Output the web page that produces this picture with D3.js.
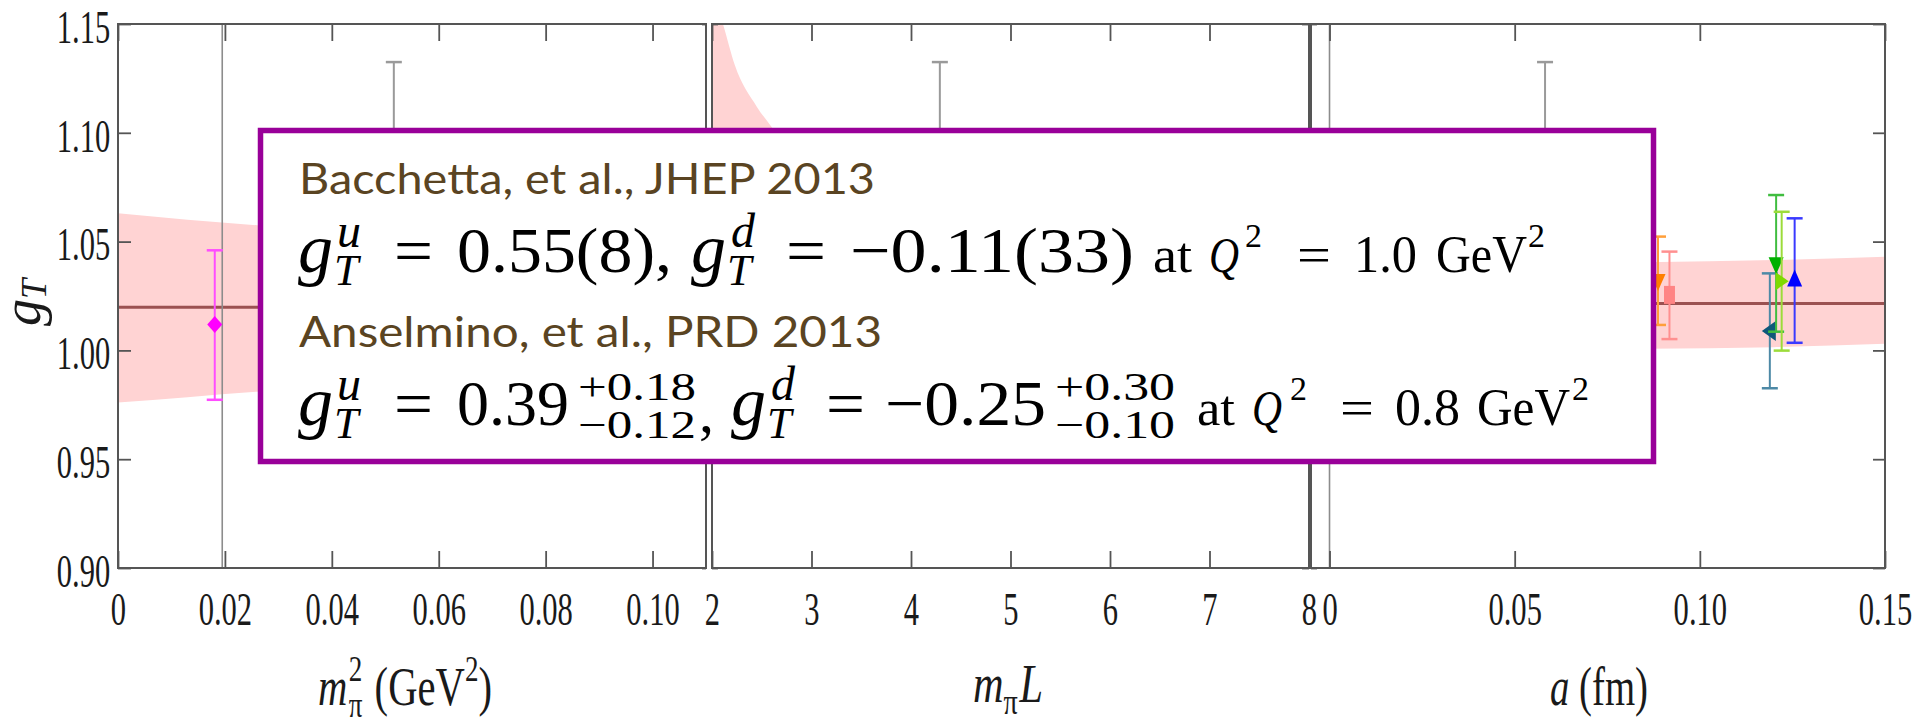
<!DOCTYPE html>
<html>
<head>
<meta charset="utf-8">
<script src="https://cdn.jsdelivr.net/npm/d3@7"></script>
<style>
  body { margin: 0; background: #fff; }
  svg { display: block; }
</style>
</head>
<body>
<svg id="chart" width="1917" height="719"></svg>
<script>
// ---- data ----
const yTicks = [0.90, 0.95, 1.00, 1.05, 1.10, 1.15]
const yTickLabels = ["0.90", "0.95", "1.00", "1.05", "1.10", "1.15"]

const m2Ticks = [0, 0.02, 0.04, 0.06, 0.08, 0.10]
const m2TickLabels = ["0", "0.02", "0.04", "0.06", "0.08", "0.10"]
const mLTicks = [2, 3, 4, 5, 6, 7, 8]
const mLTickLabels = ["2", "3", "4", "5", "6", "7", "8"]
const aTicks = [0, 0.05, 0.10, 0.15]
const aTickLabels = ["0", "0.05", "0.10", "0.15"]

// fit bands (g_T vs m_pi^2, m_pi L, a)
const m2Band = [0, 0.013, 0.026, 0.06, 0.11]
const m2BandLo = [0.976, 0.9785, 0.981, 0.984, 0.986]
const m2BandHi = [1.063, 1.060, 1.0575, 1.054, 1.052]
const m2BandMid = [1.0198, 1.0198, 1.0198, 1.0198, 1.0198]

const mLBand = [2.0, 2.11, 2.23, 2.45, 2.61, 3.0, 4.0, 5.0, 6.0, 8.0]
const mLBandLo = [0.99, 0.993, 0.995, 0.997, 0.998, 1.0, 1.0, 1.0, 1.0, 1.0]
const mLBandHi = [1.165, 1.150, 1.131, 1.112, 1.102, 1.079, 1.052, 1.044, 1.042, 1.041]
const mLBandMid = [1.08, 1.07, 1.063, 1.054, 1.05, 1.04, 1.026, 1.022, 1.021, 1.02]

const aBand = [-0.005, 0.05, 0.085, 0.12, 0.15]
const aBandLo = [1.000, 1.0005, 1.0008, 1.0015, 1.003]
const aBandHi = [1.040, 1.040, 1.0405, 1.0415, 1.043]
const aBandMid = [1.0216, 1.0216, 1.0216, 1.0216, 1.0216]

const m2Phys = 0.0195

// lattice points per panel
const m2Pts = [0.0181, 0.0516]
const m2GT = [1.0119, 1.04]
const m2Lo = [0.9773, 0.955]
const m2Hi = [1.046, 1.1325]
const m2Kind = ["magenta", "gray"]

const mLPts = [4.29]
const mLGT = [1.04]
const mLLo = [0.955]
const mLHi = [1.1325]
const mLKind = ["gray"]

const aPts = [0.0582, 0.0887, 0.0918, 0.1189, 0.1206, 0.1221, 0.1256]
const aGT = [1.04, 1.0324, 1.0255, 1.0089, 1.04, 1.0318, 1.0321]
const aLo = [0.955, 1.0117, 1.0052, 0.9826, 1.0086, 0.9999, 1.0035]
const aHi = [1.1325, 1.0523, 1.0454, 1.0354, 1.0714, 1.0637, 1.0607]
const aKind = ["gray", "orange", "salmon", "teal", "green", "lime", "blue"]

// ---- styles ----
const styles = {
  gray:    { shape: "square",  fill: "#999999", bar: "#9a9a9a" },
  magenta: { shape: "diamond", fill: "#ff00ff", bar: "#ff4dff" },
  orange:  { shape: "down",    fill: "#ff7f00", bar: "#ff9f3a" },
  salmon:  { shape: "square",  fill: "#ff8484", bar: "#ff9090" },
  teal:    { shape: "left",    fill: "#0f587a", bar: "#4d89a6" },
  green:   { shape: "down",    fill: "#00b000", bar: "#40bd40" },
  lime:    { shape: "right",   fill: "#7fd900", bar: "#9cdc3a" },
  blue:    { shape: "up",      fill: "#0000ff", bar: "#3a3aff" }
}
const shapes = {
  diamond: "M0,-8.5L7.5,0L0,8.5L-7.5,0Z",
  down: "M-7.5,-6L7.5,-6L0,11Z",
  up: "M-7.5,6L7.5,6L0,-11Z",
  left: "M6,-10L6,10L-8,0Z",
  right: "M-6,-9L-6,9L7,0Z",
  square: "M-5.5,-9L5.5,-9L5.5,9L-5.5,9Z"
}

const W = 1917, H = 719
const plotTop = 24, plotBottom = 568
const y = d3.scaleLinear().domain([0.90, 1.15]).range([plotBottom, plotTop])

const panels = [
  { x: d3.scaleLinear().domain([0, 0.11]).range([118, 706]),
    ticks: m2Ticks, labels: m2TickLabels, minor: 22, lTick: [13, 7], rTick: [4, 4],
    band: [m2Band, m2BandLo, m2BandHi, m2BandMid], vline: m2Phys,
    pts: [m2Pts, m2GT, m2Lo, m2Hi, m2Kind] },
  { x: d3.scaleLinear().domain([2, 8]).range([712, 1309]),
    ticks: mLTicks, labels: mLTickLabels, minor: 30, lTick: [6, 6], rTick: [7, 7],
    band: [mLBand, mLBandLo, mLBandHi, mLBandMid], vline: null,
    pts: [mLPts, mLGT, mLLo, mLHi, mLKind] },
  { x: d3.scaleLinear().domain([-0.005, 0.15]).range([1311, 1885]),
    ticks: aTicks, labels: aTickLabels, minor: 15, lTick: [6, 6], rTick: [12, 6],
    band: [aBand, aBandLo, aBandHi, aBandMid], vline: 0,
    pts: [aPts, aGT, aLo, aHi, aKind] }
]

const svg = d3.select("#chart")
svg.append("rect").attr("width", W).attr("height", H).attr("fill", "#fff")
const defs = svg.append("defs")

const tickFont = "Liberation Serif"
const squeeze = 0.65

panels.forEach((p, i) => {
  const [x0, x1] = p.x.range()
  defs.append("clipPath").attr("id", "clip" + i)
    .append("rect").attr("x", x0).attr("y", plotTop).attr("width", x1 - x0).attr("height", plotBottom - plotTop)

  const g = svg.append("g").attr("clip-path", `url(#clip${i})`)
  const [bx, blo, bhi, bmid] = p.band
  const area = d3.area()
    .x(d => p.x(d[0])).y0(d => y(d[1])).y1(d => y(d[2]))
    .curve(d3.curveMonotoneX)
  g.append("path").datum(d3.zip(bx, blo, bhi))
    .attr("d", area).attr("fill", "#ffd3d3")
  const line = d3.line().x(d => p.x(d[0])).y(d => y(d[1])).curve(d3.curveMonotoneX)
  g.append("path").datum(d3.zip(bx, bmid))
    .attr("d", line).attr("fill", "none")
    .attr("stroke", "#8a3a3a").attr("stroke-opacity", 0.85).attr("stroke-width", 3)

  if (p.vline !== null) {
    g.append("line")
      .attr("x1", p.x(p.vline)).attr("x2", p.x(p.vline))
      .attr("y1", plotTop).attr("y2", plotBottom)
      .attr("stroke", "#8c8c8c").attr("stroke-width", 1.6)
  }

  // error bars + markers
  const [px, pv, plo, phi, pk] = p.pts
  const rows = d3.zip(px, pv, plo, phi, pk)
  const pg = g.selectAll("g.pt").data(rows).enter().append("g").attr("class", "pt")
  pg.append("line")
    .attr("x1", d => p.x(d[0])).attr("x2", d => p.x(d[0]))
    .attr("y1", d => y(d[2])).attr("y2", d => y(d[3]))
    .attr("stroke", d => styles[d[4]].bar).attr("stroke-width", 2)
  ;[2, 3].forEach(k => {
    pg.append("line")
      .attr("x1", d => p.x(d[0]) - 8).attr("x2", d => p.x(d[0]) + 8)
      .attr("y1", d => y(d[k])).attr("y2", d => y(d[k]))
      .attr("stroke", d => styles[d[4]].bar).attr("stroke-width", 2.5)
  })
  pg.append("path")
    .attr("transform", d => `translate(${p.x(d[0])},${y(d[1])})`)
    .attr("d", d => shapes[styles[d[4]].shape])
    .attr("fill", d => styles[d[4]].fill)

  // axes: bottom with labels, top without, minor ticks on both
  const axColor = "#555"
  const bot = svg.append("g").attr("transform", `translate(0,${plotBottom})`).attr("color", axColor)
  bot.call(d3.axisBottom(p.x).tickValues(p.x.ticks(p.minor)).tickSize(-8).tickFormat(""))
  bot.call(d3.axisBottom(p.x).tickValues(p.ticks).tickSize(-17).tickSizeOuter(0)
      .tickFormat((d, j) => p.labels[j]))
  bot.selectAll(".domain").remove()
  bot.selectAll("line").attr("stroke-width", 1.8)
  bot.selectAll("text")
    .attr("y", 57).attr("dy", 0)
    .attr("font-family", tickFont).attr("font-size", 47)
    .attr("fill", "#1a1a1a")
    .attr("transform", `scale(${squeeze},1)`)

  const tp = svg.append("g").attr("transform", `translate(0,${plotTop})`).attr("color", axColor)
  tp.call(d3.axisTop(p.x).tickValues(p.x.ticks(p.minor)).tickSize(-8).tickFormat(""))
  tp.call(d3.axisTop(p.x).tickValues(p.ticks).tickSize(-17).tickFormat(""))
  tp.selectAll(".domain").remove()
  tp.selectAll("line").attr("stroke-width", 1.8)

  const lf = svg.append("g").attr("transform", `translate(${x0},0)`).attr("color", axColor)
  lf.call(d3.axisLeft(y).tickValues(y.ticks(25)).tickSize(-p.lTick[1]).tickFormat(""))
  lf.call(d3.axisLeft(y).tickValues(yTicks).tickSize(-p.lTick[0])
      .tickFormat((d, j) => i === 0 ? yTickLabels[j] : ""))
  lf.selectAll(".domain").remove()
  lf.selectAll("line").attr("stroke-width", 1.8)
  if (i === 0) {
    lf.selectAll("text")
      .attr("x", -12).attr("dy", "0.39em")
      .attr("font-family", tickFont).attr("font-size", 47)
      .attr("fill", "#1a1a1a")
      .attr("transform", `scale(${squeeze},1)`)
  }

  const rt = svg.append("g").attr("transform", `translate(${x1},0)`).attr("color", axColor)
  rt.call(d3.axisRight(y).tickValues(y.ticks(25)).tickSize(-p.rTick[1]).tickFormat(""))
  rt.call(d3.axisRight(y).tickValues(yTicks).tickSize(-p.rTick[0]).tickFormat(""))
  rt.selectAll(".domain").remove()
  rt.selectAll("line").attr("stroke-width", 1.8)

  svg.append("rect")
    .attr("x", x0).attr("y", plotTop).attr("width", x1 - x0).attr("height", plotBottom - plotTop)
    .attr("fill", "none").attr("stroke", "#555").attr("stroke-width", 2)
})

// ---- axis titles ----
function title(xStart, xEnd, base, runs) {
  const t = svg.append("text").attr("font-family", tickFont).attr("fill", "#1a1a1a")
  runs.forEach(r => {
    t.append("tspan").text(r.t)
      .attr("font-size", r.s || 54)
      .attr("font-style", r.it ? "italic" : null)
      .attr("dx", r.dx || 0).attr("dy", r.dy || 0)
  })
  const w = t.node().getBBox().width
  const k = (xEnd - xStart) / w
  t.attr("transform", `translate(${xStart},${base}) scale(${k},1)`)
}
title(318, 492, 705, [
  { t: "m", it: true },
  { t: "2", s: 36, dy: -24, dx: 2 },
  { t: "π", s: 36, dx: -18, dy: 36 },
  { t: "(GeV", dy: -12, dx: 16 },
  { t: "2", s: 36, dy: -24 },
  { t: ")", dy: 24 }
])
title(973, 1043, 702, [
  { t: "m", it: true },
  { t: "π", s: 36, dy: 12 },
  { t: "L", it: true, dy: -12, dx: 2 }
])
title(1550, 1648, 705, [
  { t: "a", it: true },
  { t: " (fm)" }
])

// y axis title g_T
const yl = svg.append("text")
  .attr("transform", "translate(40,326) rotate(-90)")
  .attr("font-family", tickFont).attr("fill", "#1a1a1a")
yl.append("tspan").text("g").attr("font-style", "italic").attr("font-size", 54)
yl.append("tspan").text("T").attr("font-style", "italic").attr("font-size", 36).attr("dy", 6)

// ---- overlay box ----
const box = svg.append("g")
box.append("rect")
  .attr("x", 260.5).attr("y", 130.5).attr("width", 1393).attr("height", 331)
  .attr("fill", "#fff").attr("stroke", "#990099").attr("stroke-width", 5.5)

function txt(x, yb, s, o = {}) {
  const t = box.append("text").attr("x", x).attr("y", yb).text(s)
    .attr("font-family", o.fam || "Liberation Serif")
    .attr("font-size", o.size || 64)
    .attr("font-style", o.it ? "italic" : null)
    .attr("fill", o.fill || "#000")
  if (o.len) t.attr("textLength", o.len).attr("lengthAdjust", "spacingAndGlyphs")
  return t
}
const brown = "#5a4422"
txt(299, 194, "Bacchetta, et al., JHEP 2013", { fam: "Lato", size: 43, fill: brown, len: 576 })
txt(299, 347, "Anselmino, et al., PRD 2013", { fam: "Lato", size: 43, fill: brown, len: 583 })

// line 2
txt(298, 272, "g", { it: true, size: 70 })
txt(337, 247, "u", { it: true, size: 48 })
txt(334, 285, "T", { it: true, size: 44 })
txt(394, 272, "=", { len: 39 })
txt(457, 272, "0.55(8),", { len: 215 })
txt(691, 272, "g", { it: true, size: 70 })
txt(731, 247, "d", { it: true, size: 48 })
txt(727, 285, "T", { it: true, size: 44 })
txt(786, 272, "=", { len: 40 })
txt(850, 272, "−0.11(33)", { len: 284 })
txt(1153, 272, "at", { size: 50, len: 39 })
txt(1209, 272, "Q", { it: true, size: 50, len: 30 })
txt(1245, 247, "2", { size: 34 })
txt(1297, 272, "=", { size: 50, len: 34 })
txt(1354, 272, "1.0", { size: 52, len: 63 })
txt(1436, 272, "GeV", { size: 52, len: 91 })
txt(1528, 247, "2", { size: 34 })

// line 4
txt(298, 425, "g", { it: true, size: 70 })
txt(337, 400, "u", { it: true, size: 48 })
txt(334, 438, "T", { it: true, size: 44 })
txt(394, 425, "=", { len: 39 })
txt(457, 425, "0.39", { len: 112 })
txt(578, 400, "+0.18", { size: 40, len: 118 })
txt(578, 438, "−0.12", { size: 40, len: 118 })
txt(699, 432, ",", { size: 60 })
txt(731, 425, "g", { it: true, size: 70 })
txt(771, 400, "d", { it: true, size: 48 })
txt(767, 438, "T", { it: true, size: 44 })
txt(826, 425, "=", { len: 39 })
txt(885, 425, "−0.25", { len: 161 })
txt(1055, 400, "+0.30", { size: 40, len: 120 })
txt(1055, 438, "−0.10", { size: 40, len: 120 })
txt(1197, 425, "at", { size: 50, len: 38 })
txt(1252, 425, "Q", { it: true, size: 50, len: 30 })
txt(1290, 400, "2", { size: 34 })
txt(1340, 425, "=", { size: 50, len: 34 })
txt(1395, 425, "0.8", { size: 52, len: 65 })
txt(1477, 425, "GeV", { size: 52, len: 93 })
txt(1572, 400, "2", { size: 34 })
</script>
</body>
</html>
